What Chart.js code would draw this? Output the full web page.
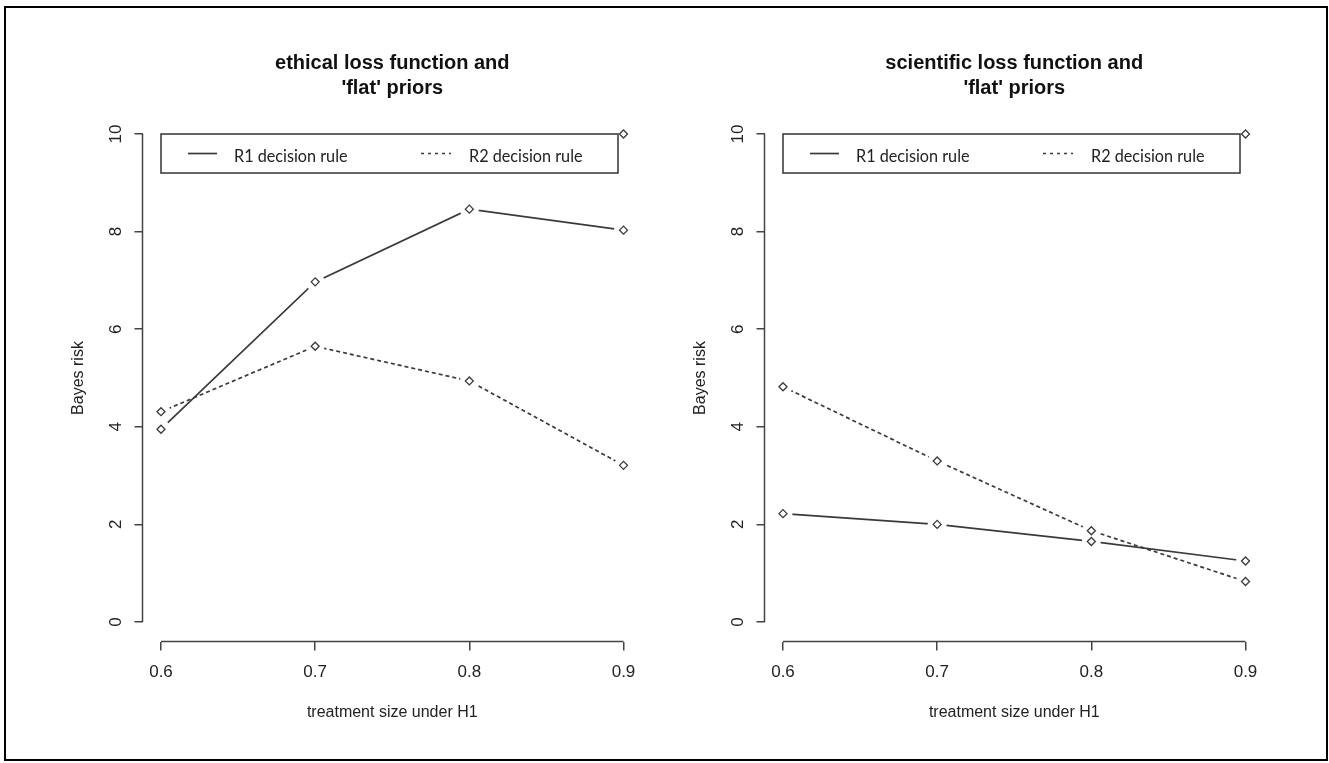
<!DOCTYPE html>
<html><head><meta charset="utf-8">
<script src="https://cdn.jsdelivr.net/npm/chart.js@4.4.1/dist/chart.umd.min.js"></script>
<style>
html,body{margin:0;padding:0;background:#fff;}
body{width:1329px;height:763px;position:relative;overflow:hidden;}
#frame{position:absolute;left:4px;top:6px;width:1324px;height:755px;border:2.5px solid #000;box-sizing:border-box;}
canvas{position:absolute;top:0;}
#c1{left:0px;}
#c2{left:622px;}
</style></head>
<body>
<div id="frame"></div>
<canvas id="c1" width="665" height="763"></canvas>
<canvas id="c2" width="665" height="763"></canvas>
<script>
// ---- data ----
const xValues = [0.6, 0.7, 0.8, 0.9];
const xTickValues = [0.6, 0.7, 0.8, 0.9];
const xTickLabels = ['0.6', '0.7', '0.8', '0.9'];
const yTickValues = [0, 2, 4, 6, 8, 10];
const yTickLabels = ['0', '2', '4', '6', '8', '10'];
const ethicalR1 = [3.95, 6.97, 8.46, 8.03];
const ethicalR2 = [4.31, 5.65, 4.94, 3.21];
const scientificR1 = [2.22, 2.00, 1.65, 1.25];
const scientificR2 = [4.82, 3.30, 1.87, 0.83];
const extraPointX = [0.9];
const extraPointY = [10];
const seriesNames = ['R1 decision rule', 'R2 decision rule'];
const ethicalTitle = ['ethical loss function and', "'flat' priors"];
const scientificTitle = ['scientific loss function and', "'flat' priors"];
const xAxisTitle = 'treatment size under H1';
const yAxisTitle = 'Bayes risk';
const legendAnchorX = 0.6;
const legendAnchorY = 10;

const INK = '#3a3a3a';
const TXT = '#222';
const SANS = '"Liberation Sans", Arial, sans-serif';
const NARROW = 'Lato, "Liberation Sans", sans-serif';

const rStyle = {
  id: 'rStyle',
  afterDraw(chart) {
    const ctx = chart.ctx, xs = chart.scales.x, ys = chart.scales.y, ca = chart.chartArea;
    ctx.save();
    ctx.strokeStyle = '#444';
    ctx.lineWidth = 1.5;
    // R-style axis lines spanning first..last tick
    ctx.beginPath();
    ctx.moveTo(ca.left, ys.getPixelForValue(yTickValues[0]));
    ctx.lineTo(ca.left, ys.getPixelForValue(yTickValues[yTickValues.length - 1]));
    ctx.moveTo(xs.getPixelForValue(xTickValues[0]), ca.bottom);
    ctx.lineTo(xs.getPixelForValue(xTickValues[xTickValues.length - 1]), ca.bottom);
    ctx.stroke();
    // legend box
    const L = xs.getPixelForValue(legendAnchorX), T = ys.getPixelForValue(legendAnchorY);
    const W = 457, H = 39, mid = T + 19.5;
    ctx.strokeStyle = '#333';
    ctx.strokeRect(L, T, W, H);
    ctx.strokeStyle = INK;
    ctx.lineWidth = 1.7;
    ctx.beginPath(); ctx.moveTo(L + 27, mid); ctx.lineTo(L + 56, mid); ctx.stroke();
    ctx.setLineDash([3, 4]);
    ctx.beginPath(); ctx.moveTo(L + 260, mid); ctx.lineTo(L + 290, mid); ctx.stroke();
    ctx.setLineDash([]);
    ctx.fillStyle = TXT;
    ctx.font = '18px ' + NARROW;
    ctx.textBaseline = 'alphabetic';
    ctx.textAlign = 'left';
    const sx = 0.9;
    ctx.save(); ctx.translate(L + 73, T + 28); ctx.scale(sx, 1); ctx.fillText(seriesNames[0], 0, 0); ctx.restore();
    ctx.save(); ctx.translate(L + 308, T + 28); ctx.scale(sx, 1); ctx.fillText(seriesNames[1], 0, 0); ctx.restore();
    ctx.restore();
  }
};

function pts(arr) { return xValues.map((x, i) => ({x: x, y: arr[i]})); }

function makeDatasets(r1, r2) {
  const marker = {
    showLine: false, pointStyle: 'rectRot', pointRadius: 4, pointBorderWidth: 1.3,
    pointBorderColor: INK, pointBackgroundColor: '#fff', order: 1, clip: false
  };
  const line = {
    showLine: true, borderColor: INK, borderWidth: 1.7, pointStyle: 'circle', pointRadius: 9.5,
    pointBackgroundColor: '#ffffff', pointBorderColor: '#ffffff', pointBorderWidth: 0,
    order: 2, clip: false
  };
  return [
    Object.assign({label: seriesNames[0] + ' markers', data: pts(r1)}, marker),
    Object.assign({label: seriesNames[1] + ' markers', data: pts(r2)}, marker),
    Object.assign({label: 'extra', data: extraPointX.map((x, i) => ({x: x, y: extraPointY[i]}))}, marker),
    Object.assign({label: seriesNames[0], data: pts(r1)}, line),
    Object.assign({label: seriesNames[1], data: pts(r2), borderDash: [4, 3]}, line)
  ];
}

function makeChart(id, title, r1, r2) {
  return new Chart(document.getElementById(id), {
    type: 'scatter',
    data: {datasets: makeDatasets(r1, r2)},
    options: {
      responsive: false, animation: false, devicePixelRatio: 1, events: [],
      layout: {padding: {left: 0, right: 23, top: 0, bottom: 21.5}},
      plugins: {
        legend: {display: false},
        tooltip: {enabled: false},
        title: {
          display: true, text: title, fullSize: false, color: '#111',
          font: {family: SANS, size: 20, weight: 'bold', lineHeight: 1.25},
          padding: {top: 50.5, bottom: 14}
        }
      },
      scales: {
        x: {
          type: 'linear', min: 0.588, max: 0.912,
          afterBuildTicks: s => { s.ticks = xTickValues.map(v => ({value: v})); },
          afterFit: s => { s.height = 100; },
          ticks: {
            callback: (v, i) => xTickLabels[i], autoSkip: false, maxRotation: 0,
            font: {family: SANS, size: 17}, color: TXT, padding: 12
          },
          grid: {display: true, drawOnChartArea: false, drawTicks: true, tickLength: 9, color: '#444', lineWidth: 1.5},
          border: {display: false},
          title: {display: true, text: xAxisTitle, color: TXT, font: {family: SANS, size: 16}, padding: {top: 0, bottom: 18.9}}
        },
        y: {
          type: 'linear', min: -0.4, max: 10.4,
          afterBuildTicks: s => { s.ticks = yTickValues.map(v => ({value: v})); },
          afterFit: s => { s.width = 142.5; },
          ticks: {
            callback: (v, i) => yTickLabels[i], autoSkip: false, minRotation: 90, maxRotation: 90,
            crossAlign: 'center', font: {family: SANS, size: 17}, color: TXT, padding: 9
          },
          grid: {display: true, drawOnChartArea: false, drawTicks: true, tickLength: 8, color: '#444', lineWidth: 1.5},
          border: {display: false},
          title: {display: true, text: yAxisTitle, color: TXT, font: {family: SANS, size: 16}, padding: {top: 69, bottom: 0}}
        }
      }
    },
    plugins: [rStyle]
  });
}

makeChart('c1', ethicalTitle, ethicalR1, ethicalR2);
makeChart('c2', scientificTitle, scientificR1, scientificR2);
</script>
</body></html>
